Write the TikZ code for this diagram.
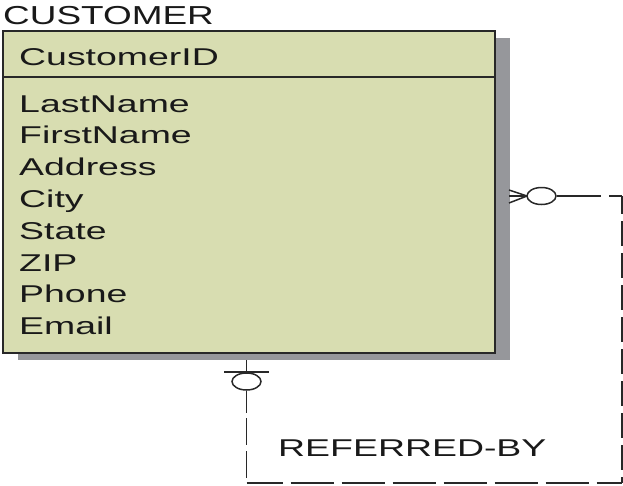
\documentclass[tikz,border=0pt]{standalone}
\usepackage{fontspec}
\setmainfont{Liberation Sans}
\newfontfamily\attrfont[FakeStretch=1.54]{Liberation Sans}
\newfontfamily\titlefont[FakeStretch=1.42]{Liberation Sans}
\usetikzlibrary{shapes.geometric}
\definecolor{boxfill}{RGB}{216,221,177}
\definecolor{shadowc}{RGB}{150,151,155}
\definecolor{linec}{RGB}{40,40,40}
\definecolor{textc}{RGB}{25,25,25}
\tikzset{
  attr/.style={anchor=base west, inner sep=0pt, text=textc, font=\attrfont\fontsize{24.3}{24}\selectfont},
  conn/.style={draw=linec, line width=1.5pt},
  oval/.style={ellipse, draw=linec, line width=1.5pt, minimum width=29pt, minimum height=17pt, inner sep=0pt},
  hdash/.style={conn, dash pattern=on 43pt off 8pt},
  vdash/.style={conn, dash pattern=on 25pt off 7pt}
}
\begin{document}
\begin{tikzpicture}[x=1pt,y=-1pt]
\useasboundingbox (0,0) rectangle (623,485);
% shadow and entity box
\fill[shadowc] (18,38) rectangle (510,360);
\node[draw=linec, line width=1.6pt, fill=boxfill, minimum width=492pt, minimum height=322pt, anchor=north west, inner sep=0pt] (cust) at (2,30) {};
\draw[linec, line width=1.2pt] (2,77) -- (494,77);
% title
\node[anchor=base west, inner sep=0pt, text=textc, font=\titlefont\fontsize{26}{26}\selectfont] (title) at (3,24) {CUSTOMER};
% attributes
\node[attr] (pk) at (19,65) {CustomerID};
\foreach \t [count=\i from 0] in {LastName,FirstName,Address,City,State,ZIP,Phone,Email}{
  \node[attr] (a\i) at (19,{112+31.8*\i}) {\t};
}
% right end: crow's foot + optional circle
\coordinate (rt) at (509,190);
\coordinate (rm) at (509,196);
\coordinate (rb) at (509,203);
\coordinate (rp) at (527,196);
\node[oval] (o1) at (541.5,196) {};
\draw[conn] (rt) -- (rp);
\draw[conn] (rm) -- (rp);
\draw[conn] (rb) -- (rp);
\coordinate (r1) at (601,196);
\coordinate (r2) at (609,196);
\coordinate (c1) at (622,196);
\coordinate (c2) at (622,483);
\coordinate (c3) at (246.5,483);
\coordinate (l2) at (246.5,418);
\coordinate (l1) at (246.5,413);
\draw[conn] (o1.east) -- (r1);
\draw[conn] (r2) -- (c1);
\draw[vdash, dash phase=7pt] (c1) -- (c2);
\draw[hdash, dash phase=7pt] (c3) -- (c2);
\draw[conn, dash pattern=on 27pt off 6pt] (l2) -- (c3);
% left end: one bar + optional circle
\coordinate (ltop) at (246.5,360);
\coordinate (bl) at (224,372);
\coordinate (br) at (269,372);
\node[oval] (o2) at (246.5,381.5) {};
\draw[conn] (ltop) -- (o2.north);
\draw[conn] (bl) -- (br);
\draw[conn] (o2.south) -- (l1);
% relationship label
\node[attr] (rel) at (278,456) {REFERRED-BY};
\end{tikzpicture}
\end{document}
